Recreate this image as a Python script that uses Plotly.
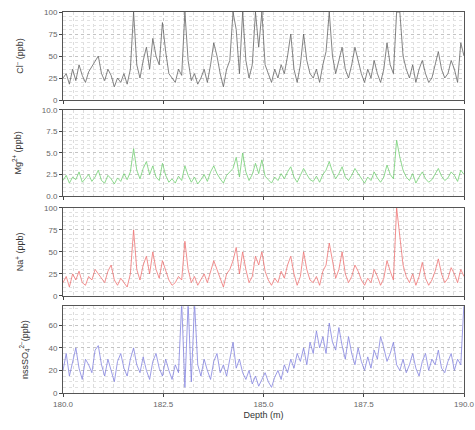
import plotly.graph_objects as go

# ---- data ----
depth_start = 180.0
depth_step = 0.08

cl = [25, 30, 18, 35, 22, 40, 28, 20, 32, 38,
      45, 50, 30, 22, 35, 28, 15, 25, 20, 30,
      18, 35, 100, 40, 25, 45, 60, 35, 70, 50,
      40, 88, 55, 30, 25, 20, 35, 28, 100, 45,
      22, 30, 18, 25, 35, 20, 40, 65, 50, 30,
      15, 35, 45, 100, 80, 30, 100, 45, 25, 40,
      100, 60, 100, 40, 30, 20, 35, 25, 40, 30,
      50, 75, 35, 20, 40, 75, 45, 30, 25, 35,
      20, 40, 55, 100, 50, 30, 45, 60, 35, 25,
      40, 60, 45, 30, 20, 35, 25, 45, 30, 20,
      35, 65, 40, 30, 100, 100, 50, 35, 25, 40,
      20, 35, 45, 30, 20, 25, 40, 55, 35, 25,
      30, 45, 35, 20, 65, 50]

mg = [1.8, 2.4, 1.5, 2.2, 1.9, 2.8, 1.6, 2.0, 2.5, 1.7,
      2.2, 3.0, 1.8, 1.5, 2.4, 2.0, 1.4, 2.1, 1.7, 2.6,
      1.9, 2.8, 5.5, 3.0, 2.0, 3.2, 4.0, 2.5, 3.5, 2.2,
      1.8, 3.8, 2.4, 1.6, 2.0, 1.5, 2.3, 1.8, 3.5, 2.4,
      1.6, 2.2, 1.4, 1.9, 2.5, 1.7, 2.8, 3.5, 2.6, 2.0,
      1.5, 2.4, 2.8, 3.2, 4.5, 2.2, 5.0, 2.8, 1.8, 2.5,
      3.8, 2.6, 4.2, 2.3, 1.9, 1.5, 2.2, 1.8, 2.6, 2.0,
      2.8, 3.4, 2.2, 1.6, 2.4, 3.2, 2.5, 1.9, 1.7, 2.3,
      1.6, 2.5, 3.0, 4.0, 2.8, 2.0, 2.6, 3.4, 2.2, 1.8,
      2.4, 3.2, 2.6, 2.0, 1.5, 2.2, 1.8, 2.8, 2.1, 1.6,
      2.2, 3.6, 2.5, 2.0, 6.5, 4.5, 3.0, 2.2, 1.8, 2.6,
      1.5, 2.2, 2.8, 2.0, 1.6, 1.9, 2.6, 3.2, 2.3, 1.8,
      2.1, 2.8, 2.4, 1.7, 3.0, 2.5]

na = [15, 22, 10, 25, 18, 28, 15, 12, 22, 18,
      30, 25, 20, 15, 28, 35, 18, 12, 20, 15,
      10, 25, 75, 30, 18, 35, 45, 25, 50, 30,
      20, 40, 28, 18, 12, 15, 22, 18, 62, 30,
      15, 22, 12, 18, 25, 15, 28, 40, 30, 20,
      10, 25, 30, 40, 55, 25, 50, 30, 15, 22,
      45, 35, 50, 28, 18, 12, 20, 15, 28, 20,
      35, 45, 25, 12, 22, 50, 30, 18, 15, 22,
      12, 28, 35, 60, 38, 20, 30, 50, 25, 15,
      22, 35, 28, 18, 12, 20, 15, 30, 22, 12,
      20, 40, 28, 18, 100, 70, 35, 22, 15, 25,
      12, 22, 38, 20, 12, 18, 28, 42, 25, 15,
      20, 32, 25, 15, 30, 22]

so4 = [20, 35, 15, 28, 40, 22, 12, 30, 25, 18,
       38, 42, 25, 15, 30, 20, 10, 28, 35, 22,
       15, 30, 40, 25, 18, 32, 20, 12, 28, 35,
       22, 15, 30, 20, 12, 25, 18, 80, 5, 80,
       10, 80, 25, 15, 30, 20, 12, 28, 35, 18,
       25, 15, 32, 45, 22, 30, 18, 12, 20, 8,
       15, 6, 12, 18, 10, 5, 14, 20, 12, 25,
       18, 30, 22, 35, 28, 40, 25, 45, 35, 55,
       40, 50, 35, 62, 45, 38, 58, 42, 30, 50,
       35, 25, 40, 28, 20, 32, 22, 38, 30, 50,
       40, 28, 35, 45, 25, 20, 30, 18, 25, 35,
       22, 15, 28, 35, 20, 30, 25, 38, 22, 18,
       28, 35, 20, 30, 25, 80]

depth = [round(depth_start + depth_step * i, 3) for i in range(len(cl))]

x_ticks = [180.0, 182.5, 185.0, 187.5, 190.0]
titles = ["Cl<sup>−</sup> (ppb)", "Mg<sup>2+</sup> (ppb)", "Na<sup>+</sup> (ppb)",
          "nssSO<sub>4</sub><sup>2−</sup>(ppb)"]
series = [cl, mg, na, so4]
colors = ["#555555", "#66cc66", "#ee6666", "#7777dd"]
y_ranges = [[0, 100], [0, 10], [0, 100], [0, 77]]
y_dticks = [25, 2.5, 25, 20]
y_formats = ["d", ".1f", "d", "d"]

# ---- figure ----
domains = [[0.769, 1.0], [0.517, 0.743], [0.255, 0.486], [0.0, 0.228]]

fig = go.Figure()
layout = dict(
    width=475, height=430,
    margin=dict(l=63, r=11, t=12, b=37),
    paper_bgcolor="white", plot_bgcolor="white",
    showlegend=False,
    font=dict(family="Liberation Sans, Arial, sans-serif", size=8, color="#555"),
)

for k in range(4):
    n = k + 1
    xa = "x" if n == 1 else f"x{n}"
    ya = "y" if n == 1 else f"y{n}"
    fig.add_trace(go.Scatter(
        x=depth, y=series[k], mode="lines", xaxis=xa, yaxis=ya,
        line=dict(color=colors[k], width=0.8), opacity=0.9,
        hoverinfo="skip",
    ))
    xkey = "xaxis" if n == 1 else f"xaxis{n}"
    ykey = "yaxis" if n == 1 else f"yaxis{n}"
    layout[xkey] = dict(
        domain=[0, 1], anchor=ya, range=[180, 190], automargin=False,
        tickvals=x_ticks, tickformat=".1f", ticklabeloverflow="allow",
        showticklabels=(n == 4),
        ticks="outside", ticklen=3, tickcolor="#444",
        showline=True, mirror=True, linecolor="#555", linewidth=1,
        showgrid=True, gridcolor="#c4c4c4", gridwidth=0.6, griddash="dot",
        minor=dict(dtick=0.25, showgrid=True, gridcolor="#dcdcdc",
                   gridwidth=0.5, griddash="dot"),
        zeroline=False,
        tickfont=dict(size=8, color="#666"),
    )
    if n == 4:
        layout[xkey]["title"] = dict(text="Depth (m)",
                                     font=dict(size=9, color="#333"), standoff=4)
    if n != 1:
        layout[xkey]["matches"] = "x"
    layout[ykey] = dict(
        domain=domains[k], anchor=xa, range=y_ranges[k], automargin=False,
        tick0=0, dtick=y_dticks[k], tickformat=y_formats[k],
        ticks="outside", ticklen=3, tickcolor="#444",
        showline=True, mirror=True, linecolor="#555", linewidth=1,
        showgrid=True, gridcolor="#c4c4c4", gridwidth=0.6, griddash="dot",
        minor=dict(nticks=5, showgrid=True, gridcolor="#e2e2e2",
                   gridwidth=0.5, griddash="dot"),
        zeroline=False,
        tickfont=dict(size=8, color="#666"),
        title=dict(text=titles[k], font=dict(size=9, color="#333"), standoff=18),
    )

fig.update_layout(**layout)
fig.write_html("out.html",
               config={"displayModeBar": False},
               post_script="document.body.style.margin='0px';")
